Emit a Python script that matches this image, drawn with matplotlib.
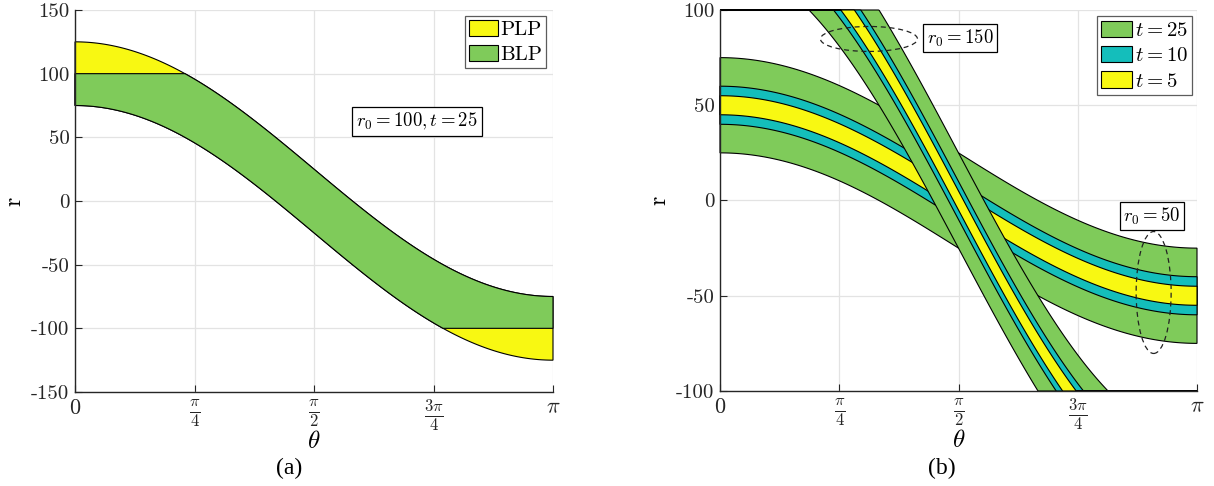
import numpy as np
import matplotlib
matplotlib.use("Agg")
import matplotlib.pyplot as plt
from matplotlib.patches import Ellipse

plt.rcParams['mathtext.fontset'] = 'cm'
plt.rcParams['axes.unicode_minus'] = False

# ---- data / parameters ----
r0_a = 100
t_a = 25
clip_a = 100
r0_b = [50, 150]
t_b = [25, 10, 5]
clip_b = 100

xticks = [0, np.pi / 4, np.pi / 2, 3 * np.pi / 4, np.pi]
xticklabels = [r'$0$', r'$\frac{\pi}{4}$', r'$\frac{\pi}{2}$', r'$\frac{3\pi}{4}$', r'$\pi$']
yticks_a = [150, 100, 50, 0, -50, -100, -150]
yticks_b = [100, 50, 0, -50, -100]

GREEN = '#7fcb5a'
TEAL = '#14bebb'
YELLOW = '#f8f812'
band_colors = {25: GREEN, 10: TEAL, 5: YELLOW}

theta = np.linspace(0, np.pi, 600)

fig = plt.figure(figsize=(12.14, 4.86), dpi=100)
ax1 = fig.add_axes([75 / 1214, 1 - 392 / 486, 478 / 1214, 382 / 486])
ax2 = fig.add_axes([720 / 1214, 1 - 391 / 486, 477 / 1214, 381 / 486])

SPINE = '#262626'
GRID = '#e3e3e3'
TICKFONT = dict(family='cmr10', size=15)


def style(ax, yticks, ylim):
    ax.set_xlim(0, np.pi)
    ax.set_ylim(*ylim)
    for s in ['top', 'right']:
        ax.spines[s].set_visible(False)
    for s in ['left', 'bottom']:
        ax.spines[s].set_color(SPINE)
        ax.spines[s].set_linewidth(1.0)
    ax.set_xticks(xticks)
    ax.set_xticklabels(xticklabels)
    for i, lab in enumerate(ax.get_xticklabels()):
        lab.set_fontsize(16 if i in (0, 4) else 17)
    ax.set_yticks(yticks)
    ax.set_yticklabels([str(v) for v in yticks], fontdict=TICKFONT)
    ax.tick_params(direction='in', length=5, width=0.8, color=SPINE, labelcolor='#262626')
    ax.tick_params(axis='y', pad=4)
    ax.tick_params(axis='x', pad=4)
    ax.grid(True, color=GRID, linewidth=0.9)
    ax.set_axisbelow(True)
    ax.set_xlabel(r'$\theta$', fontsize=18, labelpad=-3)
    ax.set_ylabel('r', fontdict=dict(family='cmr10', size=17), labelpad=4)


def band(ax, r0, t, color, clip=None, label=None):
    up = r0 * np.cos(theta) + t
    lo = r0 * np.cos(theta) - t
    if clip is not None:
        up = np.clip(up, -clip, clip)
        lo = np.clip(lo, -clip, clip)
    xs = np.concatenate([theta, theta[::-1]])
    ys = np.concatenate([up, lo[::-1]])
    ax.fill(xs, ys, facecolor=color, edgecolor='black', linewidth=0.8, label=label,
            clip_on=False)


BOX = dict(boxstyle='square,pad=0.2', facecolor='white', edgecolor='black', linewidth=0.9)

# ---- (a) ----
style(ax1, yticks_a, (-150, 150))
band(ax1, r0_a, t_a, YELLOW, label='PLP')
band(ax1, r0_a, t_a, GREEN, clip=clip_a, label='BLP')
leg = ax1.legend(loc='upper right', bbox_to_anchor=(546 / 1214, 1 - 16 / 486),
                 bbox_transform=fig.transFigure,
                 prop=dict(family='cmr10', size=15), frameon=True, fancybox=False,
                 handlelength=1.4, handleheight=0.8, handletextpad=0.1,
                 borderpad=0.2, labelspacing=0.25, borderaxespad=0)
leg.get_frame().set_edgecolor('#333333')
leg.get_frame().set_linewidth(0.9)
ax1.text(2.248, 62.4, r'$r_0 = 100, t = 25$', fontsize=13.5, ha='center', va='center', bbox=BOX)

# ---- (b) ----
style(ax2, yticks_b, (-100, 100))
for r0 in r0_b:
    for t in t_b:
        lab = r'$t = %d$' % t if r0 == r0_b[0] else None
        band(ax2, r0, t, band_colors[t], clip=clip_b, label=lab)
leg2 = ax2.legend(loc='upper right', bbox_to_anchor=(1192 / 1214, 1 - 16 / 486),
                  bbox_transform=fig.transFigure,
                  fontsize=15, frameon=True, fancybox=False,
                  handlelength=1.45, handleheight=0.85, handletextpad=0.15,
                  borderpad=0.2, labelspacing=0.25, borderaxespad=0)
leg2.get_frame().set_edgecolor('#333333')
leg2.get_frame().set_linewidth(0.9)

ax2.add_patch(Ellipse((0.981, 84.8), 0.639, 13.1, fill=False, edgecolor='#222222',
                      linestyle=(0, (4, 3)), linewidth=0.9, zorder=5))
ax2.add_patch(Ellipse((2.856, -48.3), 0.2305, 64, fill=False, edgecolor='#222222',
                      linestyle=(0, (4, 3)), linewidth=0.9, zorder=5))
ax2.text(1.581, 85.3, r'$r_0 = 150$', fontsize=13.5, ha='center', va='center', bbox=BOX)
ax2.text(2.845, -8.1, r'$r_0 = 50$', fontsize=13.5, ha='center', va='center', bbox=BOX)

fig.text(289 / 1214, 1 - 468 / 486, '(a)', family='Liberation Serif', fontsize=17,
         ha='center', va='center')
fig.text(942 / 1214, 1 - 468 / 486, '(b)', family='Liberation Serif', fontsize=17,
         ha='center', va='center')

fig.savefig('out.png', dpi=100)
